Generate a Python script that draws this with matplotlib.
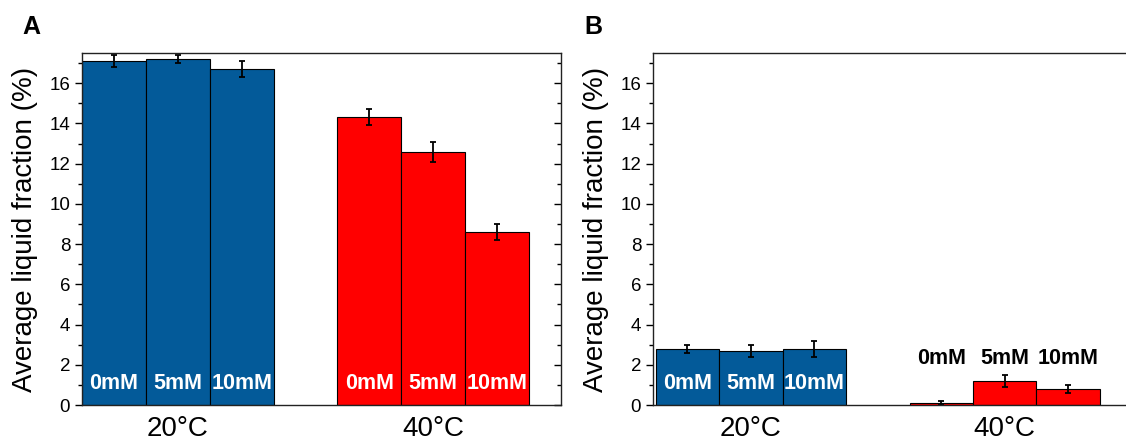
import numpy as np
import matplotlib.pyplot as plt
from matplotlib.ticker import MultipleLocator

plt.rcParams['font.family'] = ['Liberation Sans', 'DejaVu Sans']

# data
temps = ['20°C', '40°C']
conc = ['0mM', '5mM', '10mM']
# panel A
a_20 = [17.1, 17.2, 16.7]
a_20_err = [0.3, 0.2, 0.4]
a_40 = [14.3, 12.6, 8.6]
a_40_err = [0.4, 0.5, 0.4]
# panel B
b_20 = [2.8, 2.7, 2.8]
b_20_err = [0.2, 0.3, 0.4]
b_40 = [0.1, 1.2, 0.8]
b_40_err = [0.1, 0.3, 0.2]

blue = '#035A99'
red = '#FF0000'
width = 0.25
offsets = np.array([-1, 0, 1]) * width

fig = plt.figure(figsize=(11.26, 4.44), dpi=100)
axA = fig.add_axes([82/1126, 39/444, 479/1126, 352/444])
axB = fig.add_axes([653/1126, 39/444, 480/1126, 352/444])


def draw_panel(ax, v20, e20, v40, e40, xlim, red_label_y, red_label_color):
    for x0, vals, errs, col in [(1, v20, e20, blue), (2, v40, e40, red)]:
        xs = x0 + offsets
        ax.bar(xs, vals, width=width, color=col, edgecolor='black', linewidth=0.8)
        ax.errorbar(xs, vals, yerr=errs, fmt='none', ecolor='black',
                    elinewidth=1.3, capsize=2.5, capthick=1.3)
        for x, lab in zip(xs, conc):
            if col == blue:
                ax.text(x, 1.07, lab, ha='center', va='center', color='white',
                        fontsize=15.5, fontweight='bold')
            else:
                ax.text(x, red_label_y, lab, ha='center', va='center',
                        color=red_label_color, fontsize=15.5, fontweight='bold')
    ax.set_xlim(*xlim)
    ax.set_ylim(0, 17.5)
    ax.set_xticks([1, 2])
    ax.set_xticklabels(temps, fontsize=20)
    ax.tick_params(axis='x', length=0, pad=8)
    ax.yaxis.set_major_locator(MultipleLocator(2))
    ax.yaxis.set_minor_locator(MultipleLocator(1))
    ax.tick_params(axis='y', which='both', direction='out', labelsize=13.5,
                   right=True, width=1.0)
    ax.tick_params(axis='y', which='major', length=5)
    ax.tick_params(axis='y', which='minor', length=3)
    ax.set_ylabel('Average liquid fraction (%)', fontsize=20, labelpad=8)
    for s in ax.spines.values():
        s.set_linewidth(1.0)
        s.set_color('#222222')


draw_panel(axA, a_20, a_20_err, a_40, a_40_err, (0.625, 2.5), 1.07, 'white')
draw_panel(axB, b_20, b_20_err, b_40, b_40_err, (0.615, 2.505), 2.33, 'black')

# right-side ticks point inward
for ax in (axA, axB):
    for t in ax.yaxis.get_major_ticks() + ax.yaxis.get_minor_ticks():
        t.tick2line.set_marker(0)  # TICKLEFT marker -> inward on right spine

fig.text(31/1126, 1 - 27/444, 'A', fontsize=18, fontweight='bold',
         ha='center', va='center')
fig.text(593/1126, 1 - 27/444, 'B', fontsize=18, fontweight='bold',
         ha='center', va='center')

fig.savefig('out.png', dpi=100)
